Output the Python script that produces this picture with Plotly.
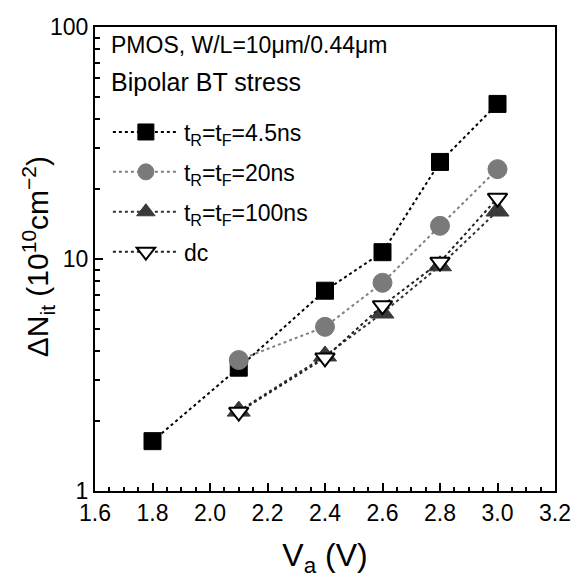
import plotly.graph_objects as go

va = [1.8, 2.1, 2.4, 2.6, 2.8, 3.0]
va2 = [2.1, 2.4, 2.6, 2.8, 3.0]
n_45 = [1.64, 3.4, 7.3, 10.7, 26.2, 46.6]
n_20 = [3.67, 5.1, 7.9, 13.9, 24.4]
n_100 = [2.21, 3.82, 5.85, 9.35, 16.1]
n_dc = [2.19, 3.75, 6.3, 9.7, 18.3]

names = ["t<sub>R</sub>=t<sub>F</sub>=4.5ns", "t<sub>R</sub>=t<sub>F</sub>=20ns",
         "t<sub>R</sub>=t<sub>F</sub>=100ns", "dc"]
y_tickvals = [1, 10, 100]
y_ticktext = ["1", "10", "100"]

FONT = "Liberation Sans, Arial, sans-serif"

fig = go.Figure()
fig.add_trace(go.Scatter(x=va, y=n_45, name=names[0], mode="lines+markers", legendgroup="a",
                         line=dict(color="#000000", dash="dot", width=2),
                         marker=dict(symbol="square", size=17, color="#000000",
                                     line=dict(color="#000000", width=1))))
fig.add_trace(go.Scatter(x=va2, y=n_20, name=names[1], mode="lines+markers", legendgroup="b",
                         line=dict(color="#808080", dash="dot", width=2),
                         marker=dict(symbol="circle", size=19, color="#7a7a7a",
                                     line=dict(color="#7a7a7a", width=1))))
fig.add_trace(go.Scatter(x=va2, y=n_100, name=names[2], mode="lines+markers", legendgroup="c",
                         line=dict(color="#333333", dash="dot", width=2),
                         marker=dict(symbol="triangle-up", size=20, color="#3a3a3a",
                                     line=dict(color="#3a3a3a", width=1))))
fig.add_trace(go.Scatter(x=va2, y=n_dc, name=names[3], mode="lines+markers", legendgroup="d",
                         line=dict(color="#222222", dash="dot", width=2),
                         marker=dict(symbol="triangle-down", size=17, color="#ffffff",
                                     line=dict(color="#000000", width=2))))

fig.update_layout(
    width=578, height=584,
    margin=dict(l=95, r=23, t=27, b=93),
    plot_bgcolor="white", paper_bgcolor="white",
    font=dict(family=FONT, color="black", size=23),
    showlegend=True,
    legend=dict(x=0.028, y=0.82, xanchor="left", yanchor="top",
                bgcolor="rgba(0,0,0,0)", font=dict(size=23, family=FONT),
                itemwidth=66, tracegroupgap=7),
    xaxis=dict(range=[1.6, 3.2], dtick=0.2, tickformat=".1f", automargin=False,
               showline=True, linecolor="black", linewidth=2, mirror=True,
               ticks="inside", ticklen=8, tickwidth=1.5, tickcolor="black",
               minor=dict(ticks="inside", ticklen=4, dtick=0.05, tickcolor="black"),
               showgrid=False, zeroline=False,
               tickfont=dict(size=23, family=FONT),
               title=dict(text="V<sub>a</sub> (V)", font=dict(size=32, family=FONT), standoff=19)),
    yaxis=dict(type="log", range=[0, 2], tickvals=y_tickvals, ticktext=y_ticktext, automargin=False,
               showline=True, linecolor="black", linewidth=2, mirror=True,
               ticks="inside", ticklen=8, tickwidth=1.5, tickcolor="black",
               minor=dict(ticks="inside", ticklen=5, tickvals=[2, 3, 4, 5, 6, 7, 8, 9, 20, 30, 40, 50, 60, 70, 80, 90], tickcolor="black"),
               showgrid=False, zeroline=False,
               tickfont=dict(size=23, family=FONT)),
)

fig.add_annotation(x=-0.125, y=0.505, xref="paper", yref="paper", xanchor="center", yanchor="middle",
                   textangle=-90, showarrow=False,
                   text="ΔN<sub>it</sub> (10<sup>10</sup>cm<sup>−2</sup>)", font=dict(size=30, family=FONT))
fig.add_annotation(x=0.03, y=0.993, xref="paper", yref="paper", xanchor="left", yanchor="top",
                   text="PMOS, W/L=10μm/0.44μm", showarrow=False, font=dict(size=23, family=FONT))
fig.add_annotation(x=0.03, y=0.915, xref="paper", yref="paper", xanchor="left", yanchor="top",
                   text="Bipolar BT stress", showarrow=False, font=dict(size=25, family=FONT))

fig.write_html("out.html", config={"displayModeBar": False},
               post_script="document.body.style.margin='0';document.body.style.padding='0';")
